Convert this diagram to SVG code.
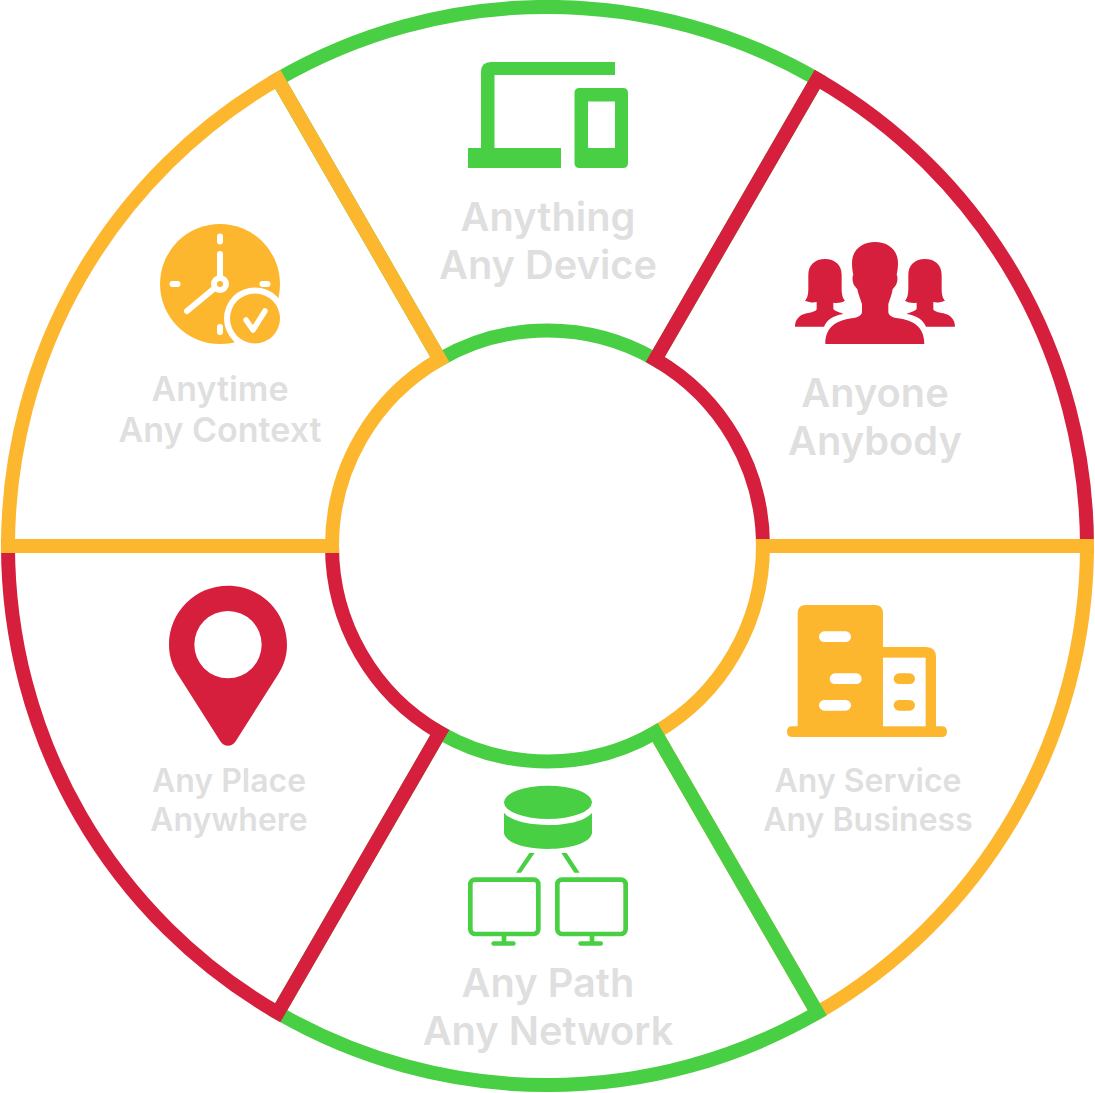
<svg xmlns="http://www.w3.org/2000/svg" width="1095" height="1093" viewBox="0 0 1095 1093">
<style>
.seg{fill:none;stroke-width:14;stroke-linejoin:miter;stroke-miterlimit:10}
.g{fill:#48cf44}.r{fill:#d61f3d}.y{fill:#fdb72f}.w{fill:#fff}
.sg{stroke:#48cf44}.sr{stroke:#d61f3d}.sy{stroke:#fdb72f}
text{font-family:Inter,"Liberation Sans",sans-serif;font-weight:600;fill:#dfdfdf;text-anchor:middle}
.lg{font-size:39.800px}.md{font-size:34px}.sm{font-size:32px}
</style>
<rect width="1095" height="1093" fill="#fff"/>
<g id="connectors">
<path class="seg sg" d="M277.750 79.200A539.500 539.500 0 0 1 817.250 79.200L655.250 359.400A215.500 215.500 0 0 0 439.750 359.400Z"/>
<path class="seg sr" d="M817.250 79.200A539.500 539.500 0 0 1 1087 546L763 546A215.500 215.500 0 0 0 655.250 359.400Z"/>
<path class="seg sy" d="M1087 546A539.500 539.500 0 0 1 817.250 1012.800L655.250 732.600A215.500 215.500 0 0 0 763 546Z"/>
<path class="seg sg" d="M817.250 1012.800A539.500 539.500 0 0 1 277.750 1012.800L439.750 732.600A215.500 215.500 0 0 0 655.250 732.600Z"/>
<path class="seg sr" d="M277.750 1012.800A539.500 539.500 0 0 1 8 546L332 546A215.500 215.500 0 0 0 439.750 732.600Z"/>
<path class="seg sy" d="M8 546A539.500 539.500 0 0 1 277.750 79.200L439.750 359.400A215.500 215.500 0 0 0 332 546Z"/>
</g>
<g id="node-anything">
<path class="g" d="M615 62H491Q481 62 481 72V148H468V168H561V148H494.500V75H615Z"/>
<path class="g" fill-rule="evenodd" d="M579.500 88H623Q628 88 628 93V163Q628 168 623 168H579.500Q574.500 168 574.500 163V93Q574.500 88 579.500 88ZM588 101.500V148H615V101.500Z"/>
<text class="lg" x="548" y="231">Anything</text>
<text class="lg" x="548" y="279">Any Device</text>
</g>
<g id="node-anyone">
<g transform="translate(780 230) scale(.3333)">
<path class="r" d="M285 36C245 36 216 60 216 100C216 115 218 125 220 135C216 140 217 155 222 165L232 178C236 195 240 205 246 222L246 245C246 255 235 262 215 265C170 272 136 290 136 342L433 342C433 290 400 272 355 265C335 262 325 255 325 245L325 222C331 205 335 195 338 178L348 165C353 155 354 140 350 135C352 125 354 115 354 100C354 60 325 36 285 36Z"/>
<path class="r" d="M135 87C105 87 85 105 85 135L85 175C85 195 82 205 75 212C90 218 100 218 110 216L110 238C110 243 95 248 80 250C60 254 45 268 45 290L132 290C140 272 155 258 190 252C175 245 160 243 160 235L160 218C172 220 185 218 195 212C188 205 185 195 185 175L185 135C185 105 165 87 135 87Z"/>
<path class="r" transform="translate(570 0) scale(-1 1)" d="M135 87C105 87 85 105 85 135L85 175C85 195 82 205 75 212C90 218 100 218 110 216L110 238C110 243 95 248 80 250C60 254 45 268 45 290L132 290C140 272 155 258 190 252C175 245 160 243 160 235L160 218C172 220 185 218 195 212C188 205 185 195 185 175L185 135C185 105 165 87 135 87Z"/>
</g>
<text class="lg" x="875" y="407">Anyone</text>
<text class="lg" x="875" y="455">Anybody</text>
</g>
<g id="node-any-service">
<g transform="translate(760 590) scale(.3333)">
<path class="y" d="M138 45H344Q369 45 369 70V171H498Q528 171 528 201V409H545Q561 409 561 425T545 441H97Q81 441 81 425T97 409H113V70Q113 45 138 45Z"/>
<rect class="w" x="369" y="203" width="128" height="206"/>
<rect class="w" x="177" y="124" width="96" height="32" rx="16"/>
<rect class="w" x="209" y="250" width="96" height="32" rx="16"/>
<rect class="w" x="177" y="330" width="96" height="32" rx="16"/>
<rect class="y" x="401" y="250" width="64" height="32" rx="16"/>
<rect class="y" x="401" y="330" width="64" height="32" rx="16"/>
</g>
<text class="sm" x="868" y="792">Any Service</text>
<text class="sm" x="868" y="831">Any Business</text>
</g>
<g id="node-any-path">
<g transform="translate(440 770) scale(.3333)">
<ellipse class="g" cx="324" cy="97" rx="132" ry="50"/>
<path class="g" d="M192 128C210 152 265 165 324 165C383 165 438 152 456 128V190C450 220 390 237 324 237C258 237 198 220 192 190Z"/>
<path class="g" d="M268 249H284L243 308H228ZM364 249H380L419 308H403Z"/>
<g fill="none" stroke="#48cf44" stroke-width="14">
<rect x="91" y="329" width="204" height="163" rx="14"/>
<rect x="352" y="329" width="205" height="163" rx="14"/>
</g>
<rect class="g" x="185" y="496" width="14" height="20"/>
<rect class="g" x="154" y="514" width="73" height="13" rx="6.500"/>
<rect class="g" x="449" y="496" width="14" height="20"/>
<rect class="g" x="415" y="514" width="74" height="13" rx="6.500"/>
</g>
<text class="lg" x="548" y="997">Any Path</text>
<text class="lg" x="548" y="1045">Any Network</text>
</g>
<g id="node-any-place">
<g transform="translate(150 570) scale(.3333)">
<path class="r" fill-rule="evenodd" d="M234 47C136 47 57 126 57 224C57 260 68 290 88 320L210 512C222 532 246 532 258 512L380 320C400 290 411 260 411 224C411 126 332 47 234 47ZM234 123A101 101 0 1 1 234 325A101 101 0 1 1 234 123Z"/>
</g>
<text class="sm" x="229" y="792">Any Place</text>
<text class="sm" x="229" y="831">Anywhere</text>
</g>
<g id="node-anytime">
<circle class="y" cx="220" cy="284" r="60"/>
<g fill="none" stroke="#fff" stroke-width="6" stroke-linecap="round">
<path d="M220 236.500V241.500M220 332V327M172.500 284H177.500M262.500 284H267.500M220 254V280M216 287L187 311"/>
</g>
<circle class="w" cx="220" cy="284" r="9"/>
<circle class="y" cx="220" cy="284" r="3"/>
<circle class="w" cx="255" cy="318.500" r="31"/>
<circle class="y" cx="255" cy="318.500" r="25"/>
<path d="M246 320L253 330L265 311" fill="none" stroke="#fff" stroke-width="5.500" stroke-linecap="round" stroke-linejoin="round"/>
<text class="md" x="220" y="401">Anytime</text>
<text class="md" x="220" y="442">Any Context</text>
</g>
</svg>
